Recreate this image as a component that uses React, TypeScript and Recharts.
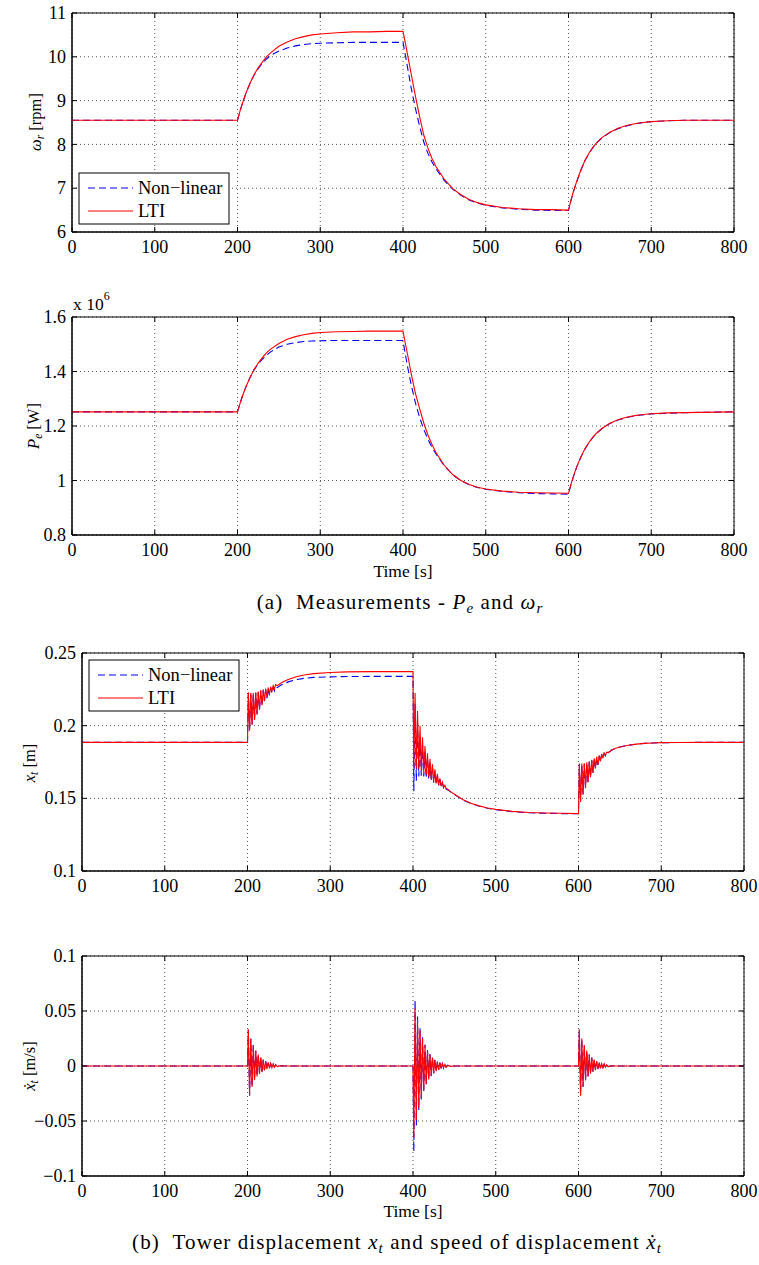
import React from "react";
import { CartesianGrid, Line, LineChart, ReferenceArea, XAxis, YAxis } from "recharts";

const SERIF = "'Liberation Serif', 'Times New Roman', serif";
const BLUE = "#0000ff";
const RED = "#ff0000";

// ---- measurements (a): rotor speed and electrical power ----
const tMeas = [
	0, 200, 203, 206, 210, 215, 220, 225, 230, 235, 240, 250, 260, 270, 280, 290, 300, 320, 340, 360, 380, 400,
	403, 406, 410, 415, 420, 425, 430, 435, 440, 450, 460, 470, 480, 490, 500, 520, 540, 560, 580, 600,
	603, 606, 610, 615, 620, 625, 630, 635, 640, 650, 660, 670, 680, 690, 700, 720, 740, 760, 780, 800,
];

const omegaNL = [
	8.55, 8.55, 8.76, 8.94, 9.16, 9.39, 9.58, 9.73, 9.85, 9.95, 10.03, 10.13, 10.2, 10.25, 10.28, 10.3, 10.31, 10.32, 10.33, 10.33, 10.33, 10.33,
	10.02, 9.7, 9.28, 8.82, 8.42, 8.06, 7.8, 7.6, 7.44, 7.17, 6.98, 6.84, 6.73, 6.66, 6.61, 6.55, 6.52, 6.5, 6.49, 6.49,
	6.72, 6.92, 7.15, 7.41, 7.63, 7.8, 7.94, 8.05, 8.14, 8.27, 8.36, 8.42, 8.47, 8.5, 8.52, 8.54, 8.55, 8.55, 8.55, 8.55,
];
const omegaLTI = [
	8.55, 8.55, 8.76, 8.94, 9.16, 9.39, 9.59, 9.75, 9.88, 10.0, 10.09, 10.24, 10.34, 10.41, 10.46, 10.5, 10.52, 10.55, 10.57, 10.57, 10.58, 10.58,
	10.3, 10.0, 9.6, 9.1, 8.64, 8.22, 7.92, 7.68, 7.49, 7.2, 6.99, 6.85, 6.74, 6.67, 6.62, 6.56, 6.53, 6.51, 6.51, 6.5,
	6.73, 6.93, 7.16, 7.42, 7.64, 7.81, 7.95, 8.06, 8.15, 8.28, 8.37, 8.43, 8.47, 8.5, 8.52, 8.54, 8.55, 8.55, 8.55, 8.55,
];

// P_e in units of 10^6 W
const powerNL = [
	1.252, 1.252, 1.282, 1.31, 1.342, 1.377, 1.406, 1.428, 1.445, 1.459, 1.472, 1.49, 1.5, 1.506, 1.51, 1.512, 1.513, 1.514, 1.514, 1.514, 1.514, 1.514,
	1.46, 1.41, 1.35, 1.285, 1.232, 1.188, 1.152, 1.122, 1.097, 1.054, 1.021, 0.999, 0.984, 0.974, 0.968, 0.96, 0.955, 0.952, 0.951, 0.95,
	0.985, 1.014, 1.05, 1.086, 1.116, 1.14, 1.16, 1.176, 1.189, 1.209, 1.222, 1.231, 1.237, 1.241, 1.244, 1.247, 1.249, 1.25, 1.251, 1.252,
];
const powerLTI = [
	1.252, 1.252, 1.282, 1.31, 1.342, 1.377, 1.407, 1.431, 1.451, 1.468, 1.482, 1.503, 1.518, 1.528, 1.535, 1.54, 1.543, 1.546, 1.547, 1.548, 1.548, 1.548,
	1.5, 1.455, 1.39, 1.32, 1.265, 1.212, 1.168, 1.132, 1.102, 1.055, 1.022, 1.0, 0.985, 0.975, 0.969, 0.961, 0.957, 0.955, 0.954, 0.953,
	0.987, 1.016, 1.051, 1.087, 1.117, 1.141, 1.161, 1.177, 1.19, 1.21, 1.223, 1.232, 1.238, 1.242, 1.245, 1.248, 1.249, 1.25, 1.251, 1.252,
];

// ---- tower (b): displacement and speed ----
const tTower = [
	0, 200,
	201, 202.5, 204, 205.5, 207, 208.5, 210, 211.5, 213, 214.5, 216, 217.5, 219, 220.5, 222, 223.5, 225, 226.5, 228, 229.5, 231, 232.5, 234,
	236, 240, 245, 250, 260, 270, 280, 300, 320, 350, 400,
	401, 402.5, 404, 405.5, 407, 408.5, 410, 411.5, 413, 414.5, 416, 417.5, 419, 420.5, 422, 423.5, 425, 426.5, 428, 429.5, 431, 432.5, 434, 435.5, 437, 438.5,
	440, 442, 445, 450, 460, 470, 480, 490, 500, 520, 540, 560, 580, 600,
	601, 602.5, 604, 605.5, 607, 608.5, 610, 611.5, 613, 614.5, 616, 617.5, 619, 620.5, 622, 623.5, 625, 626.5, 628, 629.5, 631, 632.5, 634,
	636, 640, 645, 650, 660, 670, 680, 690, 700, 720, 750, 800,
];

const xtNL = [
	0.1885, 0.1885,
	0.2225, 0.197, 0.222, 0.201, 0.222, 0.2045, 0.2225, 0.208, 0.223, 0.2112, 0.2238, 0.214, 0.2243, 0.2168, 0.2248, 0.219, 0.2253, 0.2208, 0.2258, 0.2225, 0.2263, 0.224, 0.2268,
	0.2262, 0.2278, 0.2292, 0.2303, 0.2318, 0.2327, 0.2332, 0.2336, 0.2338, 0.2339, 0.2339,
	0.1548, 0.215, 0.162, 0.202, 0.165, 0.193, 0.1655, 0.187, 0.165, 0.182, 0.164, 0.178, 0.163, 0.1745, 0.162, 0.1715, 0.1607, 0.1685, 0.1597, 0.1657, 0.1588, 0.163, 0.158, 0.1606, 0.1572, 0.1585,
	0.1564, 0.1558, 0.1546, 0.1527, 0.149, 0.1464, 0.1446, 0.1432, 0.1422, 0.1408, 0.1401, 0.1397, 0.1395, 0.1394,
	0.1735, 0.148, 0.1735, 0.1528, 0.1738, 0.1572, 0.1745, 0.1612, 0.1752, 0.1646, 0.1762, 0.1676, 0.1772, 0.1705, 0.1782, 0.173, 0.1792, 0.1754, 0.1802, 0.1774, 0.181, 0.1794, 0.1816,
	0.1814, 0.1831, 0.1844, 0.1853, 0.1865, 0.1873, 0.1878, 0.1881, 0.1883, 0.1884, 0.1885, 0.1885,
];
const xtLTI = [
	0.1885, 0.1885,
	0.223, 0.1965, 0.2225, 0.2005, 0.2225, 0.204, 0.223, 0.2075, 0.2235, 0.211, 0.2245, 0.214, 0.225, 0.217, 0.2255, 0.2195, 0.2262, 0.2215, 0.2268, 0.2235, 0.2275, 0.2252, 0.2282,
	0.2275, 0.2292, 0.2308, 0.232, 0.2338, 0.235, 0.2358, 0.2366, 0.237, 0.2372, 0.2373,
	0.171, 0.2225, 0.1705, 0.21, 0.17, 0.2, 0.169, 0.192, 0.1675, 0.186, 0.166, 0.181, 0.1645, 0.177, 0.163, 0.1735, 0.1615, 0.17, 0.1603, 0.1668, 0.1592, 0.1638, 0.1583, 0.1612, 0.1575, 0.159,
	0.1568, 0.1562, 0.1548, 0.1528, 0.1492, 0.1466, 0.1448, 0.1434, 0.1424, 0.141, 0.1403, 0.1399, 0.1397, 0.1395,
	0.174, 0.1475, 0.174, 0.1525, 0.1742, 0.157, 0.1748, 0.161, 0.1755, 0.1645, 0.1765, 0.1675, 0.1775, 0.1705, 0.1785, 0.173, 0.1795, 0.1755, 0.1805, 0.1775, 0.1812, 0.1795, 0.1818,
	0.1815, 0.1832, 0.1845, 0.1853, 0.1865, 0.1873, 0.1878, 0.1881, 0.1883, 0.1884, 0.1885, 0.1885,
];

const vNL = [
	0, 0,
	0.033, -0.0268, 0.0248, -0.0188, 0.0188, -0.0129, 0.0139, -0.0094, 0.0104, -0.0069, 0.0077, -0.0051, 0.0057, -0.0037, 0.0042, -0.0027, 0.0031, -0.002, 0.0022, -0.0014, 0.0016, -0.001, 0.0011,
	-0.0005, 0.0002, 0, 0, 0, 0, 0, 0, 0, 0, 0,
	-0.078, 0.06, -0.054, 0.045, -0.04, 0.0345, -0.0305, 0.0262, -0.0228, 0.0196, -0.017, 0.0145, -0.0126, 0.0108, -0.0093, 0.008, -0.0068, 0.0058, -0.0049, 0.0042, -0.0036, 0.0031, -0.0026, 0.0022, -0.0018, 0.0015,
	-0.0011, 0.0007, -0.0003, 0, 0, 0, 0, 0, 0, 0, 0, 0, 0, 0,
	0.033, -0.0268, 0.0248, -0.0188, 0.0188, -0.0129, 0.0139, -0.0094, 0.0104, -0.0069, 0.0077, -0.0051, 0.0057, -0.0037, 0.0042, -0.0027, 0.0031, -0.002, 0.0022, -0.0014, 0.0016, -0.001, 0.0011,
	-0.0005, 0.0002, 0, 0, 0, 0, 0, 0, 0, 0, 0, 0,
];
const vLTI = [
	0, 0,
	0.0334, -0.027, 0.025, -0.019, 0.019, -0.013, 0.014, -0.0095, 0.0105, -0.007, 0.0078, -0.0052, 0.0058, -0.0038, 0.0043, -0.0028, 0.0032, -0.0021, 0.0023, -0.0015, 0.0017, -0.0011, 0.0012,
	-0.0005, 0.0002, 0, 0, 0, 0, 0, 0, 0, 0, 0,
	-0.065, 0.0524, -0.049, 0.042, -0.038, 0.0327, -0.029, 0.025, -0.022, 0.019, -0.0165, 0.014, -0.0122, 0.0105, -0.009, 0.0078, -0.0066, 0.0057, -0.0048, 0.0041, -0.0035, 0.003, -0.0025, 0.0021, -0.0017, 0.0014,
	-0.001, 0.0006, -0.0003, 0, 0, 0, 0, 0, 0, 0, 0, 0, 0, 0,
	0.0334, -0.027, 0.025, -0.019, 0.019, -0.013, 0.014, -0.0095, 0.0105, -0.007, 0.0078, -0.0052, 0.0058, -0.0038, 0.0043, -0.0028, 0.0032, -0.0021, 0.0023, -0.0015, 0.0017, -0.0011, 0.0012,
	-0.0005, 0.0002, 0, 0, 0, 0, 0, 0, 0, 0, 0, 0,
];

// ---- ticks ----
const timeTicks = [0, 100, 200, 300, 400, 500, 600, 700, 800];
const omegaTicks = [6, 7, 8, 9, 10, 11];
const powerTicks = [0.8, 1, 1.2, 1.4, 1.6];
const xtTicks = [0.1, 0.15, 0.2, 0.25];
const vTicks = [-0.1, -0.05, 0, 0.05, 0.1];

const measData = tMeas.map((t, i) => ({
	t,
	omegaNL: omegaNL[i],
	omegaLTI: omegaLTI[i],
	powerNL: powerNL[i],
	powerLTI: powerLTI[i],
}));

const towerData = tTower.map((t, i) => ({
	t,
	xtNL: xtNL[i],
	xtLTI: xtLTI[i],
	vNL: vNL[i],
	vLTI: vLTI[i],
}));

const fmt = (v: number) => (v < 0 ? "\u2212" + String(-v) : String(v));

// ticks drawn inward (matlab style) on both sides of the box
const XTick = (props: any) => {
	const { x, y, payload, plotH } = props;
	return (
		<g>
			<line x1={x} y1={y} x2={x} y2={y - 5} stroke="#000" />
			<line x1={x} y1={y - plotH} x2={x} y2={y - plotH + 5} stroke="#000" />
			<text x={x} y={y + 21} textAnchor="middle" fontSize={18} fontFamily={SERIF} fill="#000">
				{fmt(payload.value)}
			</text>
		</g>
	);
};

const YTick = (props: any) => {
	const { x, y, payload, plotW } = props;
	return (
		<g>
			<line x1={x} y1={y} x2={x + 5} y2={y} stroke="#000" />
			<line x1={x + plotW} y1={y} x2={x + plotW - 5} y2={y} stroke="#000" />
			<text x={x - 6} y={y} dy="0.34em" textAnchor="end" fontSize={18} fontFamily={SERIF} fill="#000">
				{fmt(payload.value)}
			</text>
		</g>
	);
};

type PanelProps = {
	top: number;
	height: number;
	plotLeft: number;
	plotRight: number;
	plotTop: number;
	plotBottom: number;
	data: any[];
	nlKey: string;
	ltiKey: string;
	yDomain: [number, number];
	yTicks: number[];
};

const Panel: React.FC<PanelProps> = (p) => {
	const plotW = p.plotRight - p.plotLeft;
	const plotH = p.plotBottom - p.plotTop;
	return (
		<div style={{ position: "absolute", left: 0, top: p.top }}>
			<LineChart
				width={759}
				height={p.height}
				data={p.data}
				margin={{ top: p.plotTop - p.top, right: 759 - p.plotRight, left: 0, bottom: p.height - (p.plotBottom - p.top) - 30 }}
			>
				<CartesianGrid stroke="#555" strokeDasharray="1 3" />
				<XAxis
					type="number"
					dataKey="t"
					domain={[0, 800]}
					ticks={timeTicks}
					interval={0}
					height={30}
					allowDataOverflow
					axisLine={{ stroke: "#000" }}
					tickLine={false}
					tickSize={0}
					tickMargin={0}
					tick={(props: any) => <XTick {...props} plotH={plotH} />}
				/>
				<YAxis
					type="number"
					domain={p.yDomain}
					ticks={p.yTicks}
					interval={0}
					width={p.plotLeft}
					allowDataOverflow
					axisLine={{ stroke: "#000" }}
					tickLine={false}
					tickSize={0}
					tickMargin={0}
					tick={(props: any) => <YTick {...props} plotW={plotW} />}
				/>
				<ReferenceArea x1={0} x2={800} y1={p.yDomain[0]} y2={p.yDomain[1]} fill="none" stroke="#000" strokeWidth={1} />
				<Line type="linear" dataKey={p.nlKey} stroke={BLUE} strokeWidth={1.1} strokeDasharray="7 4" dot={false} isAnimationActive={false} />
				<Line type="linear" dataKey={p.ltiKey} stroke={RED} strokeWidth={1.1} dot={false} isAnimationActive={false} />
			</LineChart>
		</div>
	);
};

const LegendBox = ({ x, y }: { x: number; y: number }) => (
	<g>
		<rect x={x} y={y} width={150} height={51} fill="#fff" stroke="#000" strokeWidth={1} />
		<line x1={x + 9} y1={y + 15} x2={x + 54} y2={y + 15} stroke={BLUE} strokeDasharray="7 4" />
		<text x={x + 59} y={y + 21} fontSize={18.5}>Non{"\u2212"}linear</text>
		<line x1={x + 9} y1={y + 38} x2={x + 54} y2={y + 38} stroke={RED} />
		<text x={x + 59} y={y + 44} fontSize={18.5}>LTI</text>
	</g>
);

export default function App() {
	return (
		<div style={{ position: "absolute", left: 0, top: 0, width: 759, height: 1265, background: "#fff", fontFamily: SERIF }}>
			<Panel top={0} height={270} plotLeft={72} plotRight={734} plotTop={13} plotBottom={232}
				data={measData} nlKey="omegaNL" ltiKey="omegaLTI" yDomain={[6, 11]} yTicks={omegaTicks} />
			<Panel top={290} height={280} plotLeft={72} plotRight={734} plotTop={317} plotBottom={535}
				data={measData} nlKey="powerNL" ltiKey="powerLTI" yDomain={[0.8, 1.6]} yTicks={powerTicks} />
			<Panel top={640} height={270} plotLeft={82} plotRight={744} plotTop={653} plotBottom={871}
				data={towerData} nlKey="xtNL" ltiKey="xtLTI" yDomain={[0.1, 0.25]} yTicks={xtTicks} />
			<Panel top={940} height={270} plotLeft={82} plotRight={744} plotTop={956} plotBottom={1176}
				data={towerData} nlKey="vNL" ltiKey="vLTI" yDomain={[-0.1, 0.1]} yTicks={vTicks} />

			<svg width={759} height={1265} style={{ position: "absolute", left: 0, top: 0, pointerEvents: "none" }} fontFamily={SERIF} fill="#000">
				<LegendBox x={79} y={173} />
				<LegendBox x={89} y={660} />

				{/* y labels */}
				<text transform="translate(41 122) rotate(-90)" textAnchor="middle" fontSize={16.5}>
					<tspan fontStyle="italic">ω</tspan>
					<tspan fontStyle="italic" fontSize={11.5} dy={3}>r</tspan>
					<tspan dy={-3}> [rpm]</tspan>
				</text>
				<text transform="translate(39 426) rotate(-90)" textAnchor="middle" fontSize={16.5}>
					<tspan fontStyle="italic">P</tspan>
					<tspan fontStyle="italic" fontSize={11.5} dy={3}>e</tspan>
					<tspan dy={-3}> [W]</tspan>
				</text>
				<text transform="translate(35 763) rotate(-90)" textAnchor="middle" fontSize={16.5}>
					<tspan fontStyle="italic">x</tspan>
					<tspan fontStyle="italic" fontSize={11.5} dy={3}>t</tspan>
					<tspan dy={-3}> [m]</tspan>
				</text>
				<text transform="translate(35 1066) rotate(-90)" textAnchor="middle" fontSize={16.5}>
					<tspan fontStyle="italic">ẋ</tspan>
					<tspan fontStyle="italic" fontSize={11.5} dy={3}>t</tspan>
					<tspan dy={-3}> [m/s]</tspan>
				</text>

				{/* exponent of P_e axis */}
				<text x={73} y={310} fontSize={17.5}>
					x 10<tspan fontSize={12} dy={-10}>6</tspan>
				</text>

				{/* x labels */}
				<text x={403} y={577} textAnchor="middle" fontSize={17.5}>Time [s]</text>
				<text x={413} y={1217} textAnchor="middle" fontSize={17.5}>Time [s]</text>

				{/* captions */}
				<text x={400} y={609} textAnchor="middle" fontSize={21} letterSpacing={1.1}>
					(a){"\u00a0\u00a0"}Measurements - <tspan fontStyle="italic">P</tspan>
					<tspan fontStyle="italic" fontSize={15} dy={4}>e</tspan>
					<tspan dy={-4}> and </tspan>
					<tspan fontStyle="italic">ω</tspan>
					<tspan fontStyle="italic" fontSize={15} dy={4}>r</tspan>
				</text>
				<text x={397} y={1249} textAnchor="middle" fontSize={21} letterSpacing={1.1}>
					(b){"\u00a0\u00a0"}Tower displacement <tspan fontStyle="italic">x</tspan>
					<tspan fontStyle="italic" fontSize={15} dy={4}>t</tspan>
					<tspan dy={-4}> and speed of displacement </tspan>
					<tspan fontStyle="italic">ẋ</tspan>
					<tspan fontStyle="italic" fontSize={15} dy={4}>t</tspan>
				</text>
			</svg>
		</div>
	);
}
